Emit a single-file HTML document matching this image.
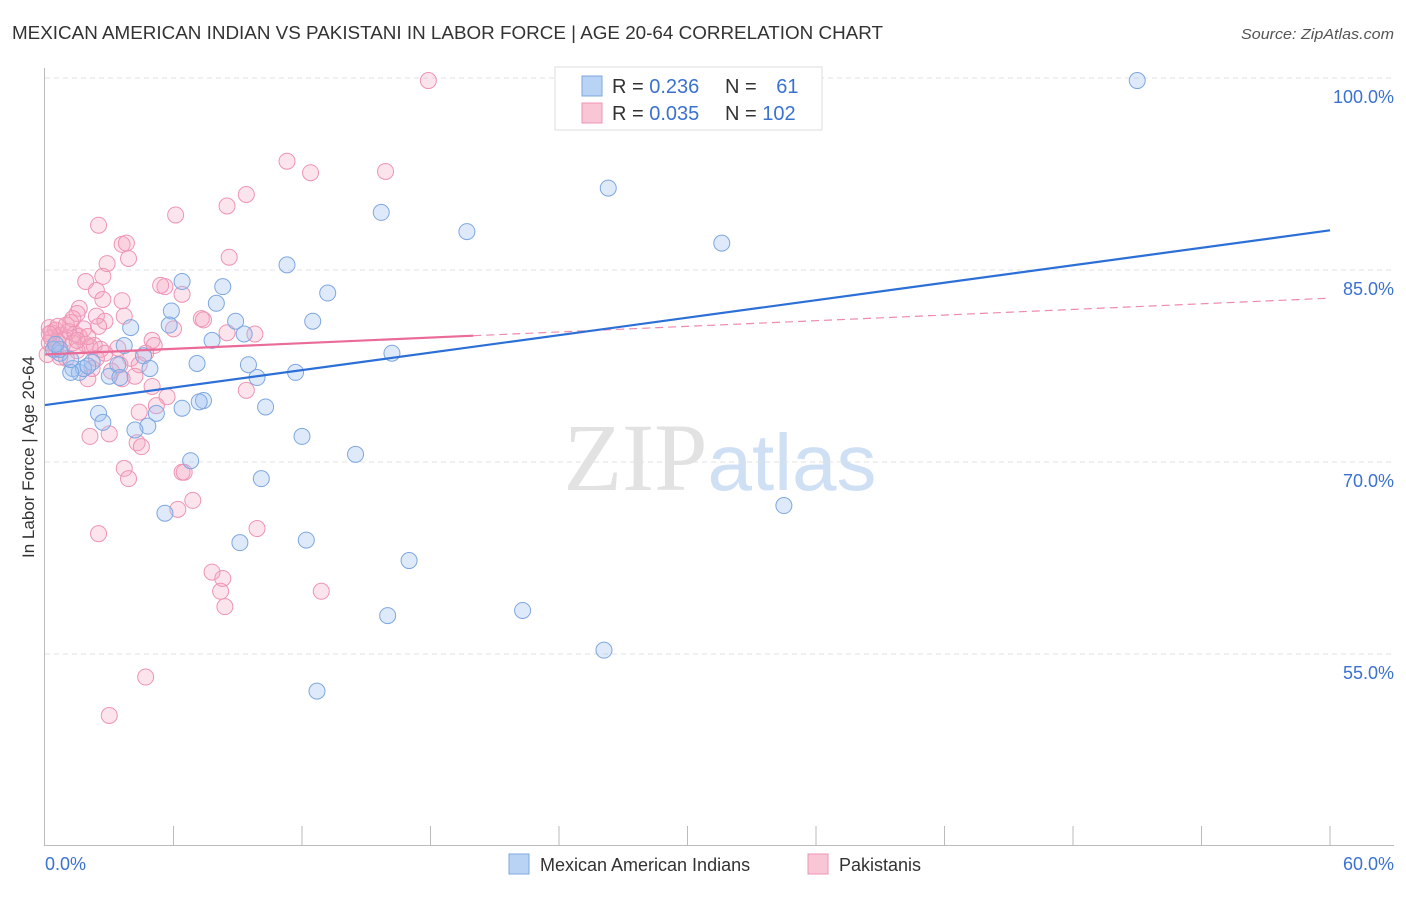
<!DOCTYPE html>
<html><head><meta charset="utf-8"><style>
body{margin:0;background:#fff;width:1406px;height:892px;overflow:hidden;font-family:"Liberation Sans",sans-serif}
svg text{font-family:"Liberation Sans",sans-serif}
</style></head><body>
<svg id="chart" width="1406" height="892" xmlns="http://www.w3.org/2000/svg">
<text x="12" y="39" font-size="18" fill="#333" textLength="871" lengthAdjust="spacingAndGlyphs">MEXICAN AMERICAN INDIAN VS PAKISTANI IN LABOR FORCE | AGE 20-64 CORRELATION CHART</text>
<text x="1241" y="39" font-size="15" fill="#555" font-style="italic" textLength="153" lengthAdjust="spacingAndGlyphs">Source: ZipAtlas.com</text>
<text x="720" y="490" font-size="96" text-anchor="middle"><tspan fill="#e2e2e2" font-family="Liberation Serif">ZIP</tspan><tspan fill="#cfe0f4" font-size="80">atlas</tspan></text>
<g id="grid"></g><g id="axes"></g><g id="pts"></g><g id="lines"></g>
<text transform="translate(34,457) rotate(-90)" font-size="17" fill="#333" text-anchor="middle">In Labor Force | Age 20-64</text>
<g>
<rect x="555" y="67" width="267" height="63" fill="#fff" stroke="#ddd"/>
<rect x="582" y="76" width="20" height="20" fill="#b9d3f5" stroke="#7ea7e0"/>
<rect x="582" y="103" width="20" height="20" fill="#f9c6d6" stroke="#ee94b4"/>
<text x="612" y="93" font-size="20" fill="#333">R = <tspan fill="#3a72d0">0.236</tspan></text>
<text x="725" y="93" font-size="20" fill="#333">N = <tspan fill="#3a72d0" dx="14">61</tspan></text>
<text x="612" y="120" font-size="20" fill="#333">R = <tspan fill="#3a72d0">0.035</tspan></text>
<text x="725" y="120" font-size="20" fill="#333">N = <tspan fill="#3a72d0">102</tspan></text>
</g>
<g>
<rect x="509" y="854" width="20" height="20" fill="#b9d3f5" stroke="#7ea7e0"/>
<text x="540" y="871" font-size="18" fill="#333">Mexican American Indians</text>
<rect x="808" y="854" width="20" height="20" fill="#f9c6d6" stroke="#ee94b4"/>
<text x="839" y="871" font-size="18" fill="#333">Pakistanis</text>
</g>
</svg>
<script>
const yTicks=[100,85,70,55];
const xTickLabels=["0.0%","60.0%"];
const blueX=[51.0,26.3,15.7,19.7,31.6,11.3,6.4,8.3,13.2,8.0,5.9,12.5,8.9,4.0,5.8,7.8,9.3,3.7,16.2,0.7,0.4,4.6,2.2,7.1,9.5,3.4,4.9,1.3,1.6,1.8,1.2,9.9,11.7,3.0,3.5,7.4,7.2,6.4,10.3,2.5,5.2,2.7,4.8,4.2,12.0,14.5,6.8,10.1,34.5,5.6,9.1,12.2,17.0,22.3,16.0,26.1,12.7,0.7,1.2,2.0,0.5];
const blueY=[99.8,91.4,89.5,88.0,87.1,85.4,84.1,83.7,83.2,82.4,81.8,81.0,81.0,80.5,80.7,79.5,80.0,79.1,78.5,78.5,78.8,78.3,77.8,77.7,77.6,77.6,77.3,77.3,77.0,77.3,77.0,76.6,77.0,76.7,76.6,74.8,74.7,74.2,74.3,73.8,73.8,73.1,72.8,72.5,72.0,70.6,70.1,68.7,66.6,66.0,63.7,63.9,62.3,58.4,58.0,55.3,52.1,78.8,78.0,77.5,79.2];
const pinkX=[17.9,11.3,15.9,12.4,9.4,8.5,6.1,2.5,3.6,3.8,3.9,8.6,2.9,2.7,1.9,5.6,5.4,6.4,2.4,2.7,3.6,1.6,1.5,2.4,3.7,2.8,1.2,7.3,7.4,6.0,8.5,9.8,0.2,0.3,0.5,0.7,0.9,1.1,1.4,1.6,1.9,2.1,2.3,2.6,0.2,0.5,0.6,5.0,5.1,4.7,2.4,1.0,0.1,4.0,3.5,4.4,3.1,4.2,3.6,2.0,5.0,9.4,5.7,5.2,4.4,2.1,3.0,4.3,4.5,3.7,3.9,6.4,6.5,6.9,6.2,9.9,2.5,7.8,8.3,8.2,8.4,12.9,4.7,3.0,0.3,0.6,1.3,1.5,1.8,2.0,3.4,2.8,2.2,1.0,1.3,0.2,0.7,1.5,2.5];
const pinkY=[99.8,93.5,92.7,92.6,90.9,90.0,89.3,88.5,87.0,87.1,85.9,86.0,85.5,84.5,84.1,83.7,83.8,83.1,83.4,82.7,82.6,82.0,81.6,81.4,81.4,81.0,80.9,81.2,81.1,80.4,80.1,80.0,80.5,80.1,80.3,79.9,79.6,80.2,80.0,79.8,79.2,79.0,79.1,78.8,79.3,78.8,79.4,79.5,79.1,78.5,78.1,78.1,78.4,78.1,77.6,77.6,77.1,76.7,76.5,76.5,75.9,75.6,75.1,74.4,73.9,72.0,72.2,71.5,71.2,69.5,68.7,69.2,69.2,67.0,66.3,64.8,64.4,61.4,60.9,59.9,58.7,59.9,53.2,50.2,79.7,80.6,79.3,78.7,80.4,79.8,78.9,78.5,77.3,80.7,81.2,80.0,78.2,79.5,80.6];
const blueTrend=[74.45,88.1];
const pinkTrend=[78.4,82.8];
const pinkSolidEnd=20;
const NS="http://www.w3.org/2000/svg";
const X0=45,X1=1330,Y100=78,PXPER=12.8;
const sx=v=>X0+(v/60)*(X1-X0);
const sy=v=>Y100+(100-v)*PXPER;
function mk(tag,attrs,parent){const e=document.createElementNS(NS,tag);for(const k in attrs)e.setAttribute(k,attrs[k]);parent.appendChild(e);return e;}
const grid=document.getElementById('grid'),axes=document.getElementById('axes'),pts=document.getElementById('pts'),lines=document.getElementById('lines');
yTicks.forEach(t=>{
 const l=mk('line',{x1:45,x2:1394,y1:sy(t),y2:sy(t),stroke:'#e2e2e2','stroke-dasharray':'5,4'},grid);
 
 
 const tx=mk('text',{x:1394,y:sy(t)+25,'font-size':18,fill:'#3a72d0','text-anchor':'end'},grid);
 tx.textContent=t.toFixed(1)+'%';
 
 
});
const ax=mk('path',{d:`M44.5 68 V845.5 H1394`,stroke:'#bbb',fill:'none'},axes);


for(let i=1;i<=10;i++){
 const t=mk('line',{x1:sx(i*6),x2:sx(i*6),y1:826,y2:845,stroke:'#bbb'},axes);
 
 
}
[[0,'start',45],[60,'end',1394]].forEach((d,i)=>{
 const t=mk('text',{x:d[2],y:870,'font-size':18,fill:'#3a72d0','text-anchor':d[1]},axes);
 t.textContent=xTickLabels[i];
 
 
});
pinkX.forEach((v,i)=>{
 const c=mk('circle',{cx:sx(v),cy:sy(pinkY[i]),r:8,fill:'rgba(245,165,192,0.3)',stroke:'#ee94b4','stroke-width':1},pts);
 
 
});
blueX.forEach((v,i)=>{
 const c=mk('circle',{cx:sx(v),cy:sy(blueY[i]),r:8,fill:'rgba(160,195,240,0.35)',stroke:'#7ea7e0','stroke-width':1},pts);
 
 
});
const pAt=x=>pinkTrend[0]+(pinkTrend[1]-pinkTrend[0])*x/60;
const pd=mk('line',{x1:sx(pinkSolidEnd),y1:sy(pAt(pinkSolidEnd)),x2:sx(60),y2:sy(pinkTrend[1]),stroke:'#ee8aad','stroke-width':1.2,'stroke-dasharray':'8,5'},lines);


const bl=mk('line',{x1:sx(0),y1:sy(blueTrend[0]),x2:sx(60),y2:sy(blueTrend[1]),stroke:'#2c6fd6','stroke-width':2.2},lines);


const ps=mk('line',{x1:sx(0),y1:sy(pinkTrend[0]),x2:sx(pinkSolidEnd),y2:sy(pAt(pinkSolidEnd)),stroke:'#ea6a98','stroke-width':2.2},lines);


</script>
</body></html>
